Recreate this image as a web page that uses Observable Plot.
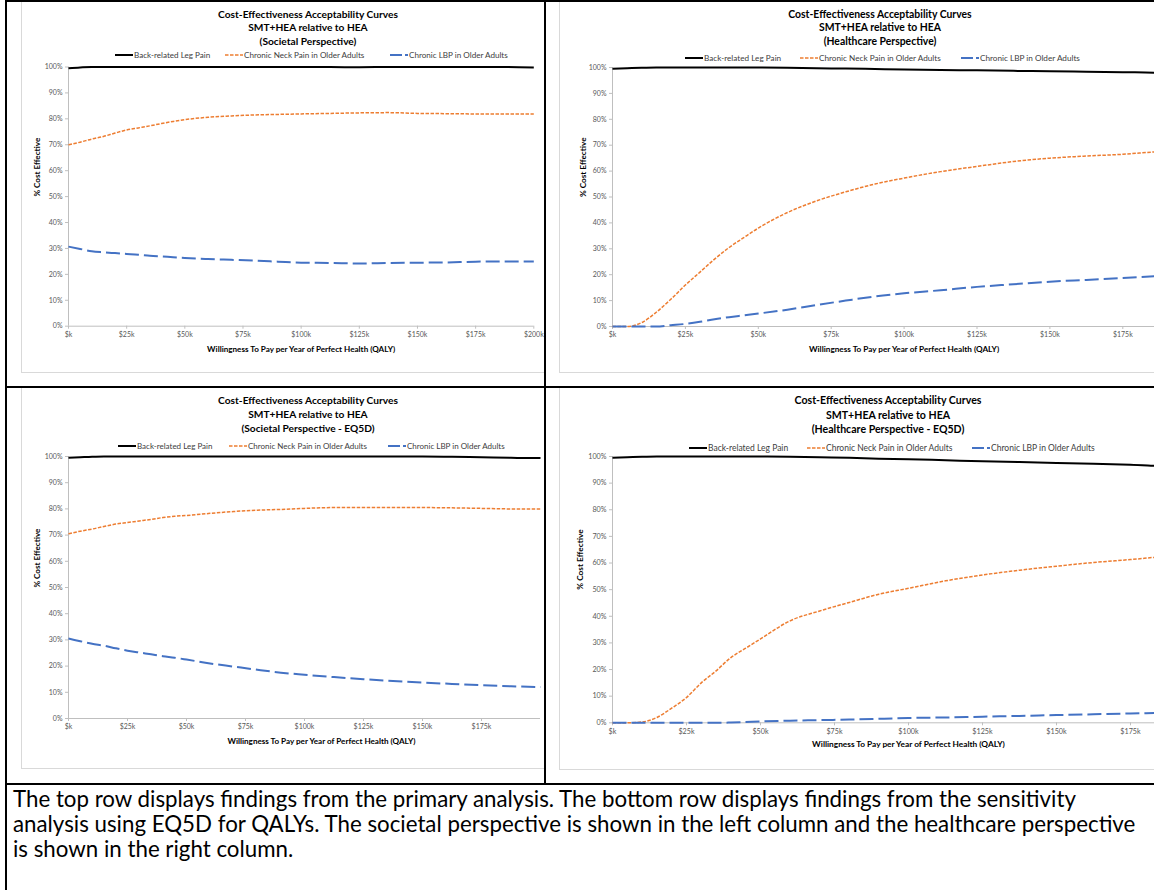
<!DOCTYPE html>
<html><head><meta charset="utf-8">
<script src="https://cdn.jsdelivr.net/npm/d3@7"></script>
<script src="https://cdn.jsdelivr.net/npm/@observablehq/plot@0.6"></script>
<style>
html,body{margin:0;padding:0;background:#fff;}
body{width:1154px;height:890px;overflow:hidden;position:relative;font-family:Lato,"Open Sans",sans-serif;color:#000;}
.bl{position:absolute;background:#000;}
.cell{position:absolute;overflow:hidden;}
.frame{position:absolute;border:1px solid #d9d9d9;box-sizing:border-box;}
.title{position:absolute;transform:translateX(-50%);text-align:center;font-weight:bold;white-space:nowrap;}
.leg{position:absolute;white-space:nowrap;color:#404040;display:flex;align-items:center;}
.leg svg{display:block;margin-right:1px;}
.svgbox{position:absolute;}
.svgbox svg{max-width:none !important;display:block;}
.caption{position:absolute;left:13px;top:786px;font-size:22.3px;line-height:25px;white-space:nowrap;color:#000;}
</style></head><body>
<script>
// ---------- data ----------
const wtp = [0,5,10,15,20,25,30,35,40,45,50,60,70,80,90,100,112.5,125,137.5,150,162.5,175,187.5,200]; // $k
const seriesNames = ["Back-related Leg Pain", "Chronic Neck Pain in Older Adults", "Chronic LBP in Older Adults"];
const xTicks = [0,25,50,75,100,125,150,175,200];
const xTicksCut = [0,25,50,75,100,125,150,175]; // $200k falls outside the cropped cells
const yTicks = [0,10,20,30,40,50,60,70,80,90,100];
const xTitle = "Willingness To Pay per Year of Perfect Health (QALY)";
const yTitle = "% Cost Effective";
const titleLine1 = "Cost-Effectiveness Acceptability Curves";
const titleLine2 = "SMT+HEA relative to HEA";
const perspectives = ["(Societal Perspective)", "(Healthcare Perspective)", "(Societal Perspective - EQ5D)", "(Healthcare Perspective - EQ5D)"];
const captionLines = [
  "The top row displays findings from the primary analysis. The bottom row displays findings from the sensitivity",
  "analysis using EQ5D for QALYs. The societal perspective is shown in the left column and the healthcare perspective",
  "is shown in the right column."
];

// Societal perspective (primary)
const legSoc  = [99.5,99.8,100,100,100,100,100,100,100,100,100,100,100,100,100,100,100,99.9,100,100,100,100,100,99.8];
const neckSoc = [70,71,72.2,73.2,74.5,75.7,76.5,77.3,78.2,79,79.7,80.6,81.1,81.5,81.7,81.9,82.1,82.3,82.4,82.1,82,81.9,81.9,81.9];
const lbpSoc  = [30.7,29.8,28.9,28.5,28.2,27.9,27.6,27.2,26.9,26.6,26.3,25.9,25.6,25.3,24.9,24.5,24.4,24.2,24.4,24.5,24.6,24.9,25,25];
// Healthcare perspective (primary)
const legHc  = [99.5,99.7,99.9,100,100,100,100,100,100,100,100,99.9,99.7,99.6,99.4,99.2,99,98.9,98.7,98.6,98.4,98.2,98,98];
const neckHc = [0,0,1.5,5.5,10.5,16,21,26,30.5,34.3,38,44,48.5,52,55,57.3,59.8,61.8,63.7,65,65.8,66.5,67.5,68];
const lbpHc  = [0,0,0,0,0.5,1,1.8,2.8,3.6,4.3,5,6.5,8.3,10,11.6,12.8,14,15.3,16.3,17.3,18,18.7,19.5,20];
// Societal perspective - EQ5D
const legSocEq  = [99.5,99.7,99.9,100,100,100,100,100,100,100,100,100,100,100,100,100,100,100,100,100,99.9,99.7,99.5,99.4];
const neckSocEq = [70.5,71.5,72.3,73.3,74.2,74.8,75.4,76,76.7,77.2,77.5,78.3,79,79.5,79.8,80.2,80.5,80.5,80.5,80.5,80.4,80.2,80,80];
const lbpSocEq  = [30.5,29.5,28.5,27.8,26.8,25.9,25.2,24.5,23.8,23.2,22.5,21,19.8,18.6,17.5,16.7,15.8,15,14.3,13.7,13.2,12.7,12.3,12];
// Healthcare perspective - EQ5D
const legHcEq  = [99.5,99.7,99.9,100,100,100,100,100,100,100,100,99.9,99.7,99.5,99.2,99,98.6,98.2,97.9,97.6,97.3,96.9,96.3,96];
const neckHcEq = [0,0,0.3,2,5.5,9.5,15,19.5,24.5,28,31.5,38.3,42,45.2,48.3,50.5,53.3,55.5,57.3,58.8,60.2,61.3,62.5,63];
const lbpHcEq  = [0,0,0,0,0,0,0,0,0.1,0.3,0.5,0.8,1,1.2,1.5,1.8,2,2.3,2.6,2.9,3.2,3.5,3.8,4];

// ---------- styles ----------
const lineStyles = [
  {stroke:"#000000", strokeWidth:2, dash:null, swatchDash:null},
  {stroke:"#ED7D31", strokeWidth:1.5, dash:"3.5,1.5", swatchDash:"3.5,1.5"},
  {stroke:"#4472C4", strokeWidth:2, dash:"14,5", swatchDash:"12,3"}
];
const fmtK = d => "$" + (d === 0 ? "" : d) + "k";

// layout (page coordinates)
const cells = [
  {l:7, t:2, w:537, h:384},
  {l:546, t:2, w:608, h:384},
  {l:7, t:388, w:537, h:395},
  {l:546, t:388, w:608, h:395}
];
const panels = [
  {frame:[21,1,2000,373], tcx:308, tTop:7.5, tLh:13.5, tFs:10.2, legY:55, legX:[115,225,390], legFs:8.1, ticks:xTicks,
   svg:[21,60,524,313], m:[6.5,11.7,47.3,47], tickFs:7, xtDy:25.3, xtDx:0, ytDx:-31, atFs:8.1},
  {frame:[559,1,2000,373], tcx:880, tTop:7.5, tLh:13.5, tFs:10.4, legY:58, legX:[685,800,961], legFs:8.2, ticks:xTicksCut,
   svg:[559,60,648,313], m:[7,11.8,47,53], tickFs:7, xtDy:25, xtDx:0, ytDx:-29, atFs:8.2},
  {frame:[21,387,2000,769], tcx:308, tTop:393, tLh:14, tFs:10.2, legY:446, legX:[118,229,388], legFs:8, ticks:xTicksCut,
   svg:[21,452,531,317], m:[4,12,51,47], tickFs:7, xtDy:25, xtDx:17, ytDx:-31, atFs:8.1},
  {frame:[559,387,2000,770], tcx:888, tTop:393, tLh:14.5, tFs:10.6, legY:447.5, legX:[689,807,972], legFs:8.5, ticks:xTicksCut,
   svg:[559,452,657,318], m:[4,12,47.7,53], tickFs:7.2, xtDy:24.5, xtDx:0, ytDx:-32, atFs:8.3}
];
const panelData = [
  [legSoc, neckSoc, lbpSoc],
  [legHc, neckHc, lbpHc],
  [legSocEq, neckSocEq, lbpSocEq],
  [legHcEq, neckHcEq, lbpHcEq]
];

function bline(l,t,w,h){const d=document.createElement("div");d.className="bl";Object.assign(d.style,{left:l+"px",top:t+"px",width:w+"px",height:h+"px"});document.body.appendChild(d);}

panels.forEach((p, pi) => {
  const c = cells[pi];
  const cell = document.createElement("div");
  cell.className = "cell";
  Object.assign(cell.style, {left:c.l+"px", top:c.t+"px", width:c.w+"px", height:c.h+"px"});
  document.body.appendChild(cell);

  const fr = document.createElement("div");
  fr.className = "frame";
  Object.assign(fr.style, {left:(p.frame[0]-c.l)+"px", top:(p.frame[1]-c.t)+"px", width:(p.frame[2]-p.frame[0])+"px", height:(p.frame[3]-p.frame[1])+"px"});
  cell.appendChild(fr);

  const tt = document.createElement("div");
  tt.className = "title";
  Object.assign(tt.style, {left:(p.tcx-c.l)+"px", top:(p.tTop-c.t)+"px", fontSize:p.tFs+"px", lineHeight:p.tLh+"px"});
  [titleLine1, titleLine2, perspectives[pi]].forEach(s => {const d=document.createElement("div");d.textContent=s;tt.appendChild(d);});
  cell.appendChild(tt);

  seriesNames.forEach((name, si) => {
    const st = lineStyles[si];
    const it = document.createElement("div");
    it.className = "leg";
    Object.assign(it.style, {left:(p.legX[si]-c.l)+"px", top:(p.legY-c.t-6)+"px", height:"12px", fontSize:p.legFs+"px"});
    const ns = "http://www.w3.org/2000/svg";
    const sv = document.createElementNS(ns, "svg");
    sv.setAttribute("width", 18); sv.setAttribute("height", 12);
    const ln = document.createElementNS(ns, "line");
    ln.setAttribute("x1", 0); ln.setAttribute("x2", 18); ln.setAttribute("y1", 6); ln.setAttribute("y2", 6);
    ln.setAttribute("stroke", st.stroke); ln.setAttribute("stroke-width", st.strokeWidth);
    if (st.swatchDash) ln.setAttribute("stroke-dasharray", st.swatchDash);
    sv.appendChild(ln);
    it.appendChild(sv);
    const tx = document.createElement("span");
    tx.textContent = name;
    it.appendChild(tx);
    cell.appendChild(it);
  });

  const rows = [];
  panelData[pi].forEach((vals, si) => vals.forEach((v, i) => rows.push({x: wtp[i], v, s: seriesNames[si]})));

  const [sl, stp, sw, sh] = p.svg;
  const [mt, mr, mb, ml] = p.m;
  const chart = Plot.plot({
    width: sw, height: sh,
    marginTop: mt, marginRight: mr, marginBottom: mb, marginLeft: ml,
    x: {domain: [0, 200]},
    y: {domain: [0, 100]},
    style: {fontFamily: "Lato, 'Open Sans', sans-serif", overflow: "visible", background: "transparent", maxWidth: "none"},
    marks: [
      Plot.ruleY([0], {stroke: "#bfbfbf", strokeWidth: 1}),
      Plot.ruleX([0], {stroke: "#bfbfbf", strokeWidth: 1}),
      Plot.axisX({ticks: p.ticks, tickFormat: fmtK, tickSize: 3, tickPadding: 3, stroke: "#bfbfbf", fill: "#595959", fontSize: p.tickFs, label: null}),
      Plot.axisY({ticks: yTicks, tickFormat: d => d + "%", tickSize: 3, tickPadding: 3, stroke: "#bfbfbf", fill: "#595959", fontSize: p.tickFs, label: null}),
      ...seriesNames.map((name, si) => Plot.line(rows.filter(d => d.s === name), {
        x: "x", y: "v", curve: "monotone-x",
        stroke: lineStyles[si].stroke, strokeWidth: lineStyles[si].strokeWidth,
        strokeDasharray: lineStyles[si].dash, strokeLinecap: "butt"
      })),
      Plot.text([xTitle], {text: d => d, frameAnchor: "bottom", dy: p.xtDy, dx: p.xtDx, fontWeight: "bold", fontSize: p.atFs, fill: "#000"}),
      Plot.text([yTitle], {text: d => d, frameAnchor: "left", dx: p.ytDx, rotate: -90, fontWeight: "bold", fontSize: p.atFs, fill: "#000"})
    ]
  });
  const box = document.createElement("div");
  box.className = "svgbox";
  Object.assign(box.style, {left:(sl-c.l)+"px", top:(stp-c.t)+"px", width: sw+"px", height: sh+"px"});
  box.appendChild(chart);
  cell.appendChild(box);
});

bline(5,0,1149,2);
bline(5,0,2,890);
bline(544,0,2,785);
bline(5,386,1149,2);
bline(5,783,1149,2);

const cap = document.createElement("div");
cap.className = "caption";
captionLines.forEach(s => {const d=document.createElement("div");d.textContent=s;cap.appendChild(d);});
document.body.appendChild(cap);
</script>
</body></html>
